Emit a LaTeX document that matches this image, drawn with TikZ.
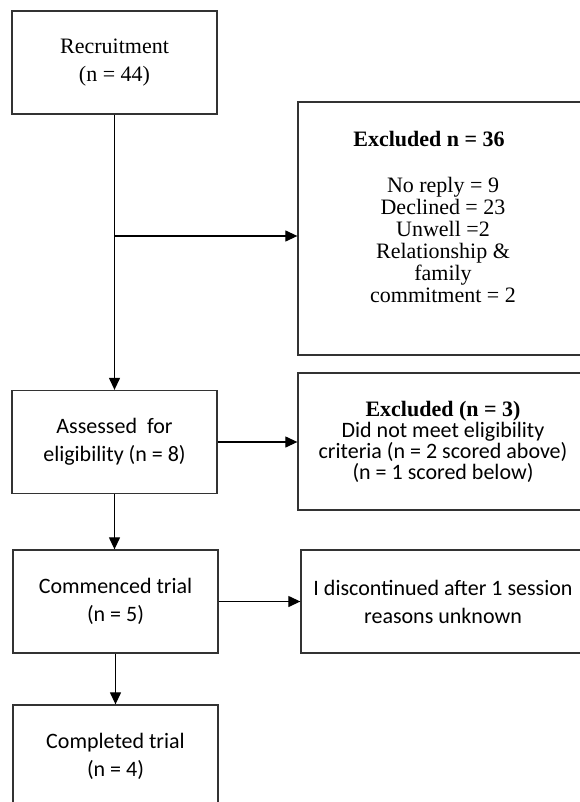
\documentclass[tikz,border=0pt]{standalone}
\usepackage{fontspec}
\setmainfont{Liberation Serif}
\newfontfamily\calibri{Carlito}
\usetikzlibrary{arrows.meta}
\newcommand\tightlines{\lineskiplimit=-50pt\relax}
\begin{document}
\begin{tikzpicture}[x=1pt,y=-1pt,
  box/.style={draw=black!80, line width=1.3pt, inner sep=0pt, align=center},
  lbox/.style={box, minimum width=205pt, minimum height=103pt},
  tms/.style={font=\fontsize{22}{28}\selectfont\tightlines},
  cal/.style={font=\calibri\fontsize{22}{28}\selectfont\tightlines},
  conn/.style={line width=1.2pt, -{Triangle[length=12pt,width=11pt]}}]
\useasboundingbox (0,0) rectangle (580,802);
\clip (0,0) rectangle (580,802);

% left column
\node[lbox, tms] (rec) at (114.5,62.5) {Recruitment\\(n = 44)};
\node[lbox, cal] (ass) at (114.5,442) {Assessed\ \ for\\eligibility (n = 8)};
\node[lbox, cal] (com) at (115.5,601.5) {Commenced trial\\(n = 5)};
\node[lbox, cal] (cpl) at (115.5,756.5) {Completed trial\\(n = 4)};

% right column
\node[box, minimum width=290pt, minimum height=253pt] (ex1) at (443,228.5) {};
\node[font=\bfseries\fontsize{22}{28}\selectfont, inner sep=0pt] (ex1h) at (429,139) {Excluded n = 36};
\node[align=center, inner sep=0pt, font=\fontsize{22}{22}\selectfont\tightlines] (ex1b) at (443,240)
  {No reply = 9\\Declined = 23\\Unwell =2\\Relationship \&\\family\\commitment = 2};

\node[box, minimum width=290pt, minimum height=137pt, font=\fontsize{22}{21}\selectfont\tightlines] (ex2) at (443,441.5)
  {\bfseries Excluded (n = 3)\\{\calibri Did not meet eligibility}\\{\calibri criteria (n = 2 scored above)}\\{\calibri (n = 1 scored below)}};

\node[box, cal, minimum width=284pt, minimum height=103pt] (dis) at (443,601.5)
  {I discontinued after 1 session\\reasons unknown};

% connectors
\coordinate (split) at (114,236);
\draw[conn] (rec.south) -- (ass.north -| rec.south);
\draw[conn] (split) -- (split -| ex1.west);
\draw[conn] (ass.east) -- (ass.east -| ex2.west);
\draw[conn] (ass.south) -- (com.north -| ass.south);
\draw[conn] (com.east) -- (com.east -| dis.west);
\draw[conn] (com.south) -- (cpl.north -| com.south);
\end{tikzpicture}
\end{document}
